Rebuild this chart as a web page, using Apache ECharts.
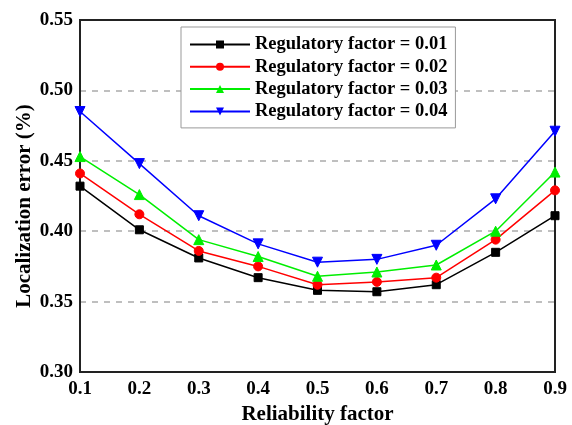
<!DOCTYPE html>
<html>
<head>
<meta charset="utf-8">
<script src="https://cdn.jsdelivr.net/npm/echarts@6/dist/echarts.min.js"></script>
<style>html,body{margin:0;padding:0;background:#fff;}#c{width:572px;height:425px;}</style>
</head>
<body>
<div id="c"></div>
<script>
var categories = ['0.1','0.2','0.3','0.4','0.5','0.6','0.7','0.8','0.9'];
var seriesNames = ['Regulatory factor = 0.01','Regulatory factor = 0.02','Regulatory factor = 0.03','Regulatory factor = 0.04'];
var rf001 = [0.432, 0.401, 0.381, 0.367, 0.358, 0.357, 0.362, 0.385, 0.411];
var rf002 = [0.441, 0.412, 0.386, 0.375, 0.362, 0.364, 0.367, 0.394, 0.429];
var rf003 = [0.453, 0.426, 0.394, 0.382, 0.368, 0.371, 0.376, 0.400, 0.442];
var rf004 = [0.485, 0.448, 0.411, 0.391, 0.378, 0.380, 0.390, 0.423, 0.471];
var yMin = 0.30, yMax = 0.55, yStep = 0.05;

var font = "'Liberation Serif','Times New Roman',serif";
var colors = ['#000000','#ff0000','#00ee00','#0000ff'];
var symbols = ['rect','circle','triangle','path://M0,0 L10,0 L5,10 Z'];
var sizes = [8, 9, 10, 10];
var datas = [rf001, rf002, rf003, rf004];

var chart = echarts.init(document.getElementById('c'), null, {renderer:'canvas'});
chart.setOption({
  backgroundColor: '#fff',
  animation: false,
  grid: {left: 80, right: 17, top: 20, bottom: 53, show: true, borderColor: '#222', borderWidth: 2,
    backgroundColor: 'transparent', containLabel: false, outerBoundsMode: 'none'},
  legend: {
    orient: 'vertical', left: 181, top: 27,
    data: seriesNames,
    itemWidth: 60, itemHeight: 10, itemGap: 3.3,
    padding: [8, 8, 7, 8],
    borderColor: '#999', borderWidth: 1, backgroundColor: '#fff',
    textStyle: {fontFamily: font, fontWeight: 'bold', fontSize: 18.5, color: '#000', lineHeight: 18}
  },
  xAxis: {
    type: 'category', data: categories, boundaryGap: false,
    name: 'Reliability factor', nameLocation: 'middle', nameGap: 30,
    nameTextStyle: {fontFamily: font, fontWeight: 'bold', fontSize: 21, color: '#000'},
    axisLine: {show: true, lineStyle: {color: '#222', width: 2}},
    axisTick: {show: false},
    axisLabel: {fontFamily: font, fontWeight: 'bold', fontSize: 19, color: '#000', margin: 8},
    splitLine: {show: false}
  },
  yAxis: {
    type: 'value', min: yMin, max: yMax, interval: yStep,
    name: 'Localization error (%)', nameLocation: 'middle', nameGap: 45, nameMoveOverlap: false,
    nameTextStyle: {fontFamily: font, fontWeight: 'bold', fontSize: 21, color: '#000', padding: [0, 20, 0, 0]},
    axisLine: {show: true, lineStyle: {color: '#222', width: 2}},
    axisTick: {show: false},
    axisLabel: {fontFamily: font, fontWeight: 'bold', fontSize: 19, color: '#000', margin: 7,
      formatter: function(v){ return v.toFixed(2); }},
    splitLine: {show: true, lineStyle: {color: '#aaa', type: [6, 6], width: 1.5},
      showMinLine: false, showMaxLine: false}
  },
  series: datas.map(function(d, i){
    return {
      name: seriesNames[i], type: 'line', data: d,
      symbol: symbols[i], symbolSize: sizes[i], showAllSymbol: true,
      lineStyle: {color: colors[i], width: 1.5},
      itemStyle: {color: colors[i], borderColor: colors[i]},
      z: 3 + i
    };
  })
});
</script>
</body>
</html>
